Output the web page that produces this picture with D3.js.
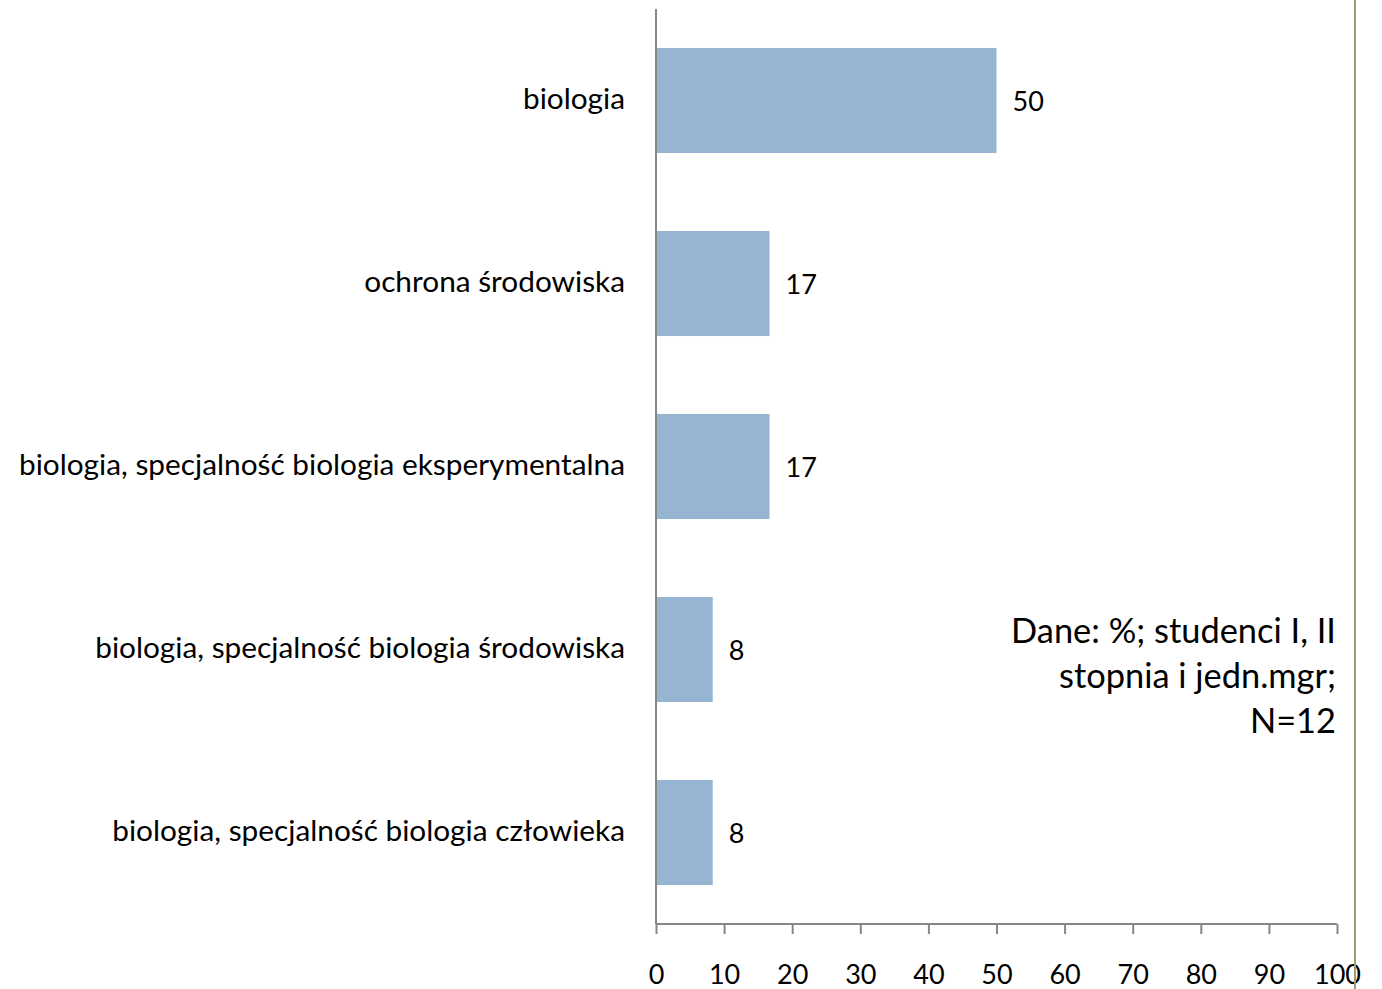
<!DOCTYPE html>
<html><head><meta charset="utf-8">
<script src="https://cdn.jsdelivr.net/npm/d3@7"></script>
<style>body{margin:0;background:#fff}svg{display:block}text{font-family:Lato,"Open Sans",sans-serif;fill:#000}</style>
</head><body>
<script>
const categories = ["biologia","ochrona środowiska","biologia, specjalność biologia eksperymentalna","biologia, specjalność biologia środowiska","biologia, specjalność biologia człowieka"];
const values = [50, 16.67, 16.67, 8.33, 8.33];
const valueLabels = ["50","17","17","8","8"];
const xTicks = [0,10,20,30,40,50,60,70,80,90,100];
const noteLines = ["Dane: %; studenci I, II","stopnia i jedn.mgr;","N=12"];

const W=1382,H=989;
const svg=d3.select("body").append("svg").attr("width",W).attr("height",H);
const x=d3.scaleLinear().domain([0,100]).range([656,1337]);
const y=d3.scaleBand().domain(categories).range([9,924]).paddingInner(0.426).paddingOuter(0.213);

svg.append("g").selectAll("rect").data(categories).join("rect")
 .attr("x",x(0)).attr("y",d=>y(d)).attr("width",(d,i)=>x(values[i])-x(0)).attr("height",y.bandwidth())
 .attr("fill","#95b5d3");

svg.append("line").attr("x1",656).attr("x2",656).attr("y1",9).attr("y2",924).attr("stroke","#868686").attr("stroke-width",2);
const xa=svg.append("g").attr("transform","translate(0,924)")
 .call(d3.axisBottom(x).tickValues(xTicks).tickSize(10).tickPadding(31).tickFormat(d3.format("d")));
xa.select(".domain").attr("stroke","#868686").attr("stroke-width",2).attr("d","M656,0H1337");
xa.selectAll(".tick line").attr("stroke","#868686").attr("stroke-width",2);
xa.selectAll(".tick text").style("font-size","27px").attr("fill","#000");

svg.append("g").selectAll("text").data(categories).join("text")
 .attr("x",625).attr("y",d=>y(d)+y.bandwidth()/2).attr("dy","0.3em").attr("text-anchor","end")
 .style("font-size","29.8px").text(d=>d);
svg.append("g").selectAll("text").data(categories).join("text")
 .attr("x",(d,i)=>x(values[i])+16).attr("y",d=>y(d)+y.bandwidth()/2).attr("dy","0.38em")
 .style("font-size","27px").text((d,i)=>valueLabels[i]);
svg.append("g").selectAll("text").data(noteLines).join("text")
 .attr("x",1336).attr("y",(d,i)=>632+i*45).attr("dy","0.33em").attr("text-anchor","end")
 .style("font-size","34.4px").text(d=>d);
svg.append("line").attr("x1",1355).attr("x2",1355).attr("y1",0).attr("y2",H).attr("stroke","#98a07a").attr("stroke-width",2);
</script>
</body></html>
